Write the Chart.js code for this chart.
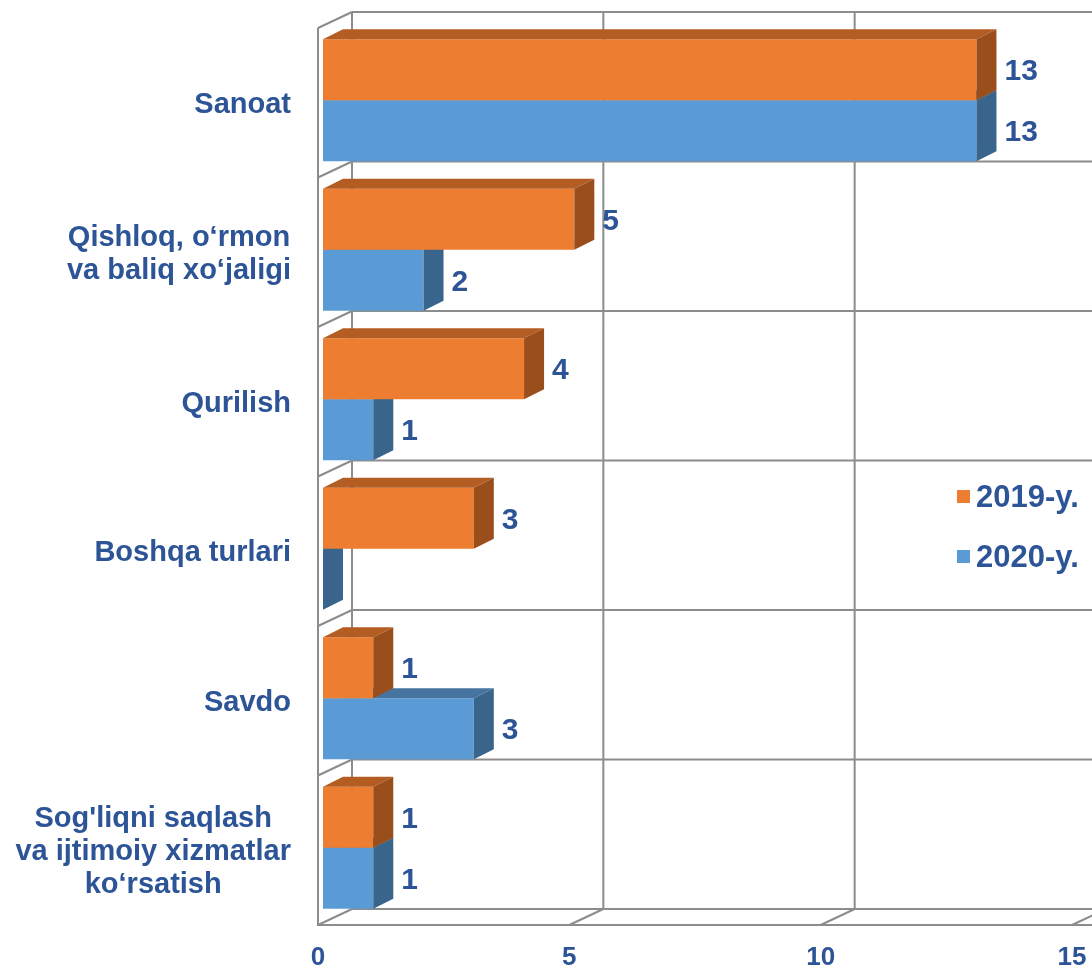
<!DOCTYPE html>
<html>
<head>
<meta charset="utf-8">
<script src="https://cdn.jsdelivr.net/npm/chart.js@4.4.1/dist/chart.umd.min.js"></script>
<style>
  html, body { margin: 0; padding: 0; background: #fff; }
  #cvg { display: block; }
</style>
</head>
<body>
<canvas id="cvg" width="1092" height="968"></canvas>
<script>
// categories, top to bottom
var categories = [
  ['Sanoat'],
  ['Qishloq, o‘rmon', 'va baliq xo‘jaligi'],
  ['Qurilish'],
  ['Boshqa turlari'],
  ['Savdo'],
  ["Sog'liqni saqlash", 'va ijtimoiy xizmatlar', 'ko‘rsatish']
];
var seriesNames = ['2019-y.', '2020-y.'];
var values2019 = [13, 5, 4, 3, 1, 1];
var values2020 = [13, 2, 1, 0, 3, 1];
var xMin = 0, xMax = 15, xStep = 5;

var textColor = '#2C5496';
var fontFamily = "'Liberation Sans', Arial, sans-serif";
var gridColor = '#8C8C8C';

// front / top / side colours of each series
var faces = [
  { front: '#ED7D31', top: '#B45D22', side: '#9A4E1C' },
  { front: '#5B9BD5', top: '#4574A1', side: '#39648B' }
];

var wallDx = 34, wallDy = -16;   // depth of the box
var barDx = 20, barDy = -10;     // depth of a bar
var barShiftX = 5, barShiftY = -2.5;

var box3d = {
  id: 'box3d',
  beforeDatasetsDraw: function(chart) {
    var ctx = chart.ctx;
    var a = chart.chartArea;
    var xs = chart.scales.x;
    var n = categories.length;
    var band = (a.bottom - a.top) / n;
    ctx.save();
    ctx.strokeStyle = gridColor;
    ctx.lineWidth = 2;
    ctx.beginPath();
    // back wall verticals + floor diagonals
    for (var v = xMin; v <= xMax; v += xStep) {
      var px = xs.getPixelForValue(v);
      ctx.moveTo(px + wallDx, a.top + wallDy);
      ctx.lineTo(px + wallDx, a.bottom + wallDy);
      ctx.moveTo(px, a.bottom);
      ctx.lineTo(px + wallDx, a.bottom + wallDy);
    }
    // back wall horizontals + left wall diagonals
    for (var i = 0; i <= n; i++) {
      var py = a.top + i * band;
      ctx.moveTo(a.left + wallDx, py + wallDy);
      ctx.lineTo(a.right + wallDx + 40, py + wallDy);
      ctx.moveTo(a.left, py);
      ctx.lineTo(a.left + wallDx, py + wallDy);
    }
    // front edges of left wall and floor
    ctx.moveTo(a.left, a.top);
    ctx.lineTo(a.left, a.bottom);
    ctx.lineTo(a.right + 40, a.bottom);
    ctx.stroke();
    ctx.restore();

    ctx.save();
    ctx.translate(barShiftX, barShiftY);
  },
  afterDatasetDraw: function(chart, args) {
    var ctx = chart.ctx;
    var f = faces[args.index];
    args.meta.data.forEach(function(bar) {
      var p = bar.getProps(['x', 'y', 'base', 'height'], true);
      var l = Math.min(p.x, p.base), r = Math.max(p.x, p.base);
      var t = p.y - p.height / 2, b = p.y + p.height / 2;
      ctx.fillStyle = f.top;
      ctx.beginPath();
      ctx.moveTo(l, t);
      ctx.lineTo(l + barDx, t + barDy);
      ctx.lineTo(r + barDx, t + barDy);
      ctx.lineTo(r, t);
      ctx.closePath();
      ctx.fill();
      ctx.fillStyle = f.side;
      ctx.beginPath();
      ctx.moveTo(r, t);
      ctx.lineTo(r + barDx, t + barDy);
      ctx.lineTo(r + barDx, b + barDy);
      ctx.lineTo(r, b);
      ctx.closePath();
      ctx.fill();
    });
  },
  afterDatasetsDraw: function(chart) {
    var ctx = chart.ctx;
    // value labels
    ctx.fillStyle = textColor;
    ctx.font = 'bold 30px ' + fontFamily;
    ctx.textAlign = 'left';
    ctx.textBaseline = 'middle';
    chart.data.datasets.forEach(function(ds, di) {
      chart.getDatasetMeta(di).data.forEach(function(bar, i) {
        var v = ds.data[i];
        if (!v) return;
        var p = bar.getProps(['x', 'y'], true);
        ctx.fillText(String(v), p.x + barDx + 8, p.y + 2);
      });
    });
    ctx.restore();

    // category labels
    var ys = chart.scales.y;
    ctx.save();
    ctx.fillStyle = textColor;
    ctx.font = 'bold 29px ' + fontFamily;
    ctx.textAlign = 'center';
    ctx.textBaseline = 'middle';
    var lh = 33;
    categories.forEach(function(lines, i) {
      var cy = ys.getPixelForValue(i) + 2;
      var w = 0;
      lines.forEach(function(s) { w = Math.max(w, ctx.measureText(s).width); });
      var cx = 291 - w / 2;
      lines.forEach(function(s, k) {
        ctx.fillText(s, cx, cy + (k - (lines.length - 1) / 2) * lh);
      });
    });

    // legend
    ctx.font = 'bold 31px ' + fontFamily;
    ctx.textAlign = 'left';
    seriesNames.forEach(function(name, k) {
      var y = 497 + k * 60;
      ctx.fillStyle = faces[k].front;
      ctx.fillRect(957, y - 7, 13, 13);
      ctx.fillStyle = textColor;
      ctx.fillText(name, 976, y + 1);
    });
    ctx.restore();
  }
};

var cv = document.getElementById('cvg');
var ctx = cv.getContext('2d');
var myChart = new Chart(ctx, {
  type: 'bar',
  data: {
    labels: categories,
    datasets: [
      { label: seriesNames[0], data: values2019, backgroundColor: faces[0].front, clip: false },
      { label: seriesNames[1], data: values2020, backgroundColor: faces[1].front, clip: false }
    ]
  },
  options: {
    indexAxis: 'y',
    responsive: false,
    devicePixelRatio: 1,
    animation: false,
    categoryPercentage: 0.816,
    barPercentage: 1,
    layout: { padding: { top: 28, right: 20, left: 0, bottom: 0 } },
    plugins: { legend: { display: false }, tooltip: { enabled: false } },
    scales: {
      y: {
        grid: { display: false, drawTicks: false },
        border: { display: false },
        ticks: { display: false },
        afterFit: function(s) { s.width = 318; }
      },
      x: {
        min: xMin,
        max: xMax,
        grid: { display: false, drawTicks: false },
        border: { display: false },
        ticks: {
          stepSize: xStep,
          color: textColor,
          padding: 17,
          font: { family: fontFamily, size: 26, weight: 'bold' }
        },
        afterFit: function(s) {
          s.height = 43;
          s.paddingLeft = 0;
          s.paddingRight = 0;
        }
      }
    }
  },
  plugins: [box3d]
});
</script>
</body>
</html>
